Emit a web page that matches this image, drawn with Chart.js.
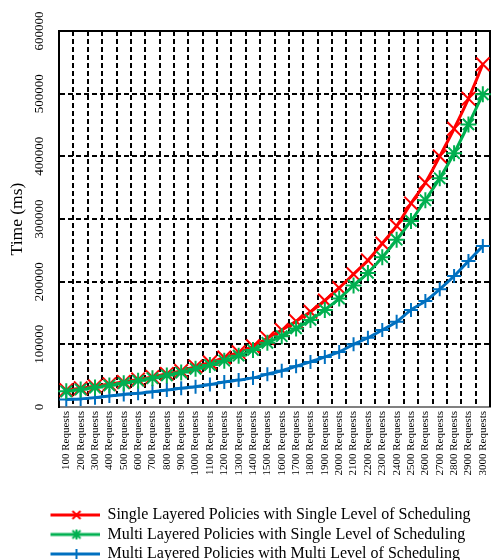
<!DOCTYPE html>
<html><head><meta charset="utf-8">
<script src="https://cdn.jsdelivr.net/npm/chart.js@4"></script>
<style>html,body{margin:0;padding:0;background:#fff}</style>
</head><body>
<canvas id="c" width="492" height="560"></canvas>
<script>
const categories = ['100 Requests','200 Requests','300 Requests','400 Requests','500 Requests','600 Requests','700 Requests','800 Requests','900 Requests','1000 Requests','1100 Requests','1200 Requests','1300 Requests','1400 Requests','1500 Requests','1600 Requests','1700 Requests','1800 Requests','1900 Requests','2000 Requests','2100 Requests','2200 Requests','2300 Requests','2400 Requests','2500 Requests','2600 Requests','2700 Requests','2800 Requests','2900 Requests','3000 Requests'];
const singleLayerSingleLevel = [27000,30000,33000,36500,40000,44000,48000,53000,57500,64500,71000,79000,87500,97000,110000,123000,137000,152000,170000,190000,212000,234000,261000,289000,325000,358000,400000,444000,492000,547000];
const multiLayerSingleLevel = [25000,28000,31000,34500,38000,42000,46000,50500,55000,61000,67000,74000,82000,91000,102500,113000,125500,139000,155000,173000,194000,214000,239000,267000,297000,330000,365000,405000,451000,499000];
const multiLayerMultiLevel = [12000,13000,15000,17500,20000,22000,24500,27000,30000,32500,36000,40000,43000,46500,52500,58000,65000,72000,80000,88000,100000,110500,123000,136000,155000,169000,188000,209000,233000,257000];
const seriesNames = ['Single Layered Policies with Single Level of Scheduling','Multi Layered Policies with Single Level of Scheduling','Multi Layered Policies with Multi Level of Scheduling'];
const yTicks = [0,100000,200000,300000,400000,500000,600000];
const yTitle = 'Time (ms)';

const FONT = '"Liberation Serif", "Times New Roman", serif';
const colors = ['#FF0000','#00B050','#0070C0'];
const markers = ['crossRot','star','cross'];

function legendIcon(color, style) {
  const c = document.createElement('canvas');
  c.width = 96; c.height = 16;
  const g = c.getContext('2d');
  g.strokeStyle = color; g.lineWidth = 3;
  g.beginPath(); g.moveTo(47, 8); g.lineTo(96, 8); g.stroke();
  const cx = 73, cy = 8, r = 4;
  g.lineWidth = 2;
  g.beginPath();
  if (style === 'crossRot' || style === 'star') { g.moveTo(cx-r,cy-r); g.lineTo(cx+r,cy+r); g.moveTo(cx+r,cy-r); g.lineTo(cx-r,cy+r); }
  if (style === 'cross' || style === 'star') { g.moveTo(cx,cy-r-1); g.lineTo(cx,cy+r+1); }
  g.stroke();
  return c;
}
const icons = colors.map((c,i) => legendIcon(c, markers[i]));

const seriesData = [singleLayerSingleLevel, multiLayerSingleLevel, multiLayerMultiLevel];
const orders = [1, 0, 2];
const radii = [9.5, 8, 7];

const datasets = seriesData.map((d,i) => ({
  label: seriesNames[i],
  data: d,
  borderColor: colors[i],
  backgroundColor: colors[i],
  borderWidth: 3,
  pointStyle: markers[i],
  pointRadius: radii[i],
  pointBorderWidth: 2,
  pointBorderColor: colors[i],
  pointBackgroundColor: colors[i],
  tension: 0.3,
  fill: false,
  clip: false,
  order: orders[i]
}));

const noSidePad = s => { s.paddingLeft = 0; s.paddingRight = 0; };

const frame = {
  id: 'frame',
  beforeDatasetsDraw(chart) {
    const a = chart.chartArea, ctx = chart.ctx;
    ctx.save();
    ctx.strokeStyle = '#000'; ctx.lineWidth = 2;
    ctx.beginPath();
    ctx.moveTo(a.left, a.top); ctx.lineTo(a.right, a.top); ctx.lineTo(a.right, a.bottom);
    ctx.stroke();
    ctx.restore();
  }
};

new Chart(document.getElementById('c'), {
  type: 'line',
  data: { labels: categories, datasets },
  plugins: [frame],
  options: {
    responsive: false,
    animation: false,
    layout: { autoPadding: false, padding: { top: 31, right: 2, left: 0, bottom: -12 } },
    plugins: {
      tooltip: { enabled: false },
      legend: {
        position: 'bottom',
        align: 'start',
        title: { display: true, text: ' ', padding: { top: 12, bottom: 0 }, font: { family: FONT, size: 10 } },
        labels: {
          usePointStyle: true,
          pointStyleWidth: 96,
          padding: 3.5,
          color: '#000',
          font: { family: FONT, size: 16 },
          sort: (a,b) => a.datasetIndex - b.datasetIndex,
          generateLabels: (chart) => {
            const items = Chart.defaults.plugins.legend.labels.generateLabels(chart);
            items.forEach(it => { it.pointStyle = icons[it.datasetIndex]; });
            return items;
          }
        }
      }
    },
    scales: {
      x: {
        type: 'category',
        offset: true,
        afterFit: noSidePad,
        grid: { display: true, offset: true, color: '#000', lineWidth: 2, drawTicks: false },
        border: { display: true, color: '#808080', width: 2, dash: [5,3] },
        ticks: { color: '#000', font: { family: FONT, size: 11 }, minRotation: 90, maxRotation: 90, autoSkip: false, padding: 4 }
      },
      y: {
        type: 'linear',
        min: 0, max: 600000,
        afterBuildTicks: s => { s.ticks = yTicks.map(v => ({ value: v })); },
        grid: { color: '#000', lineWidth: 2, drawTicks: false },
        border: { display: true, color: '#000', width: 2, dash: [5,3] },
        ticks: { color: '#000', font: { family: FONT, size: 13 }, minRotation: 90, maxRotation: 90, crossAlign: 'center', padding: 0, callback: v => String(v) },
        title: { display: true, text: yTitle, color: '#000', font: { family: FONT, size: 17.5 }, padding: { top: 6.5, bottom: 16 } }
      }
    }
  }
});
</script>
</body></html>
